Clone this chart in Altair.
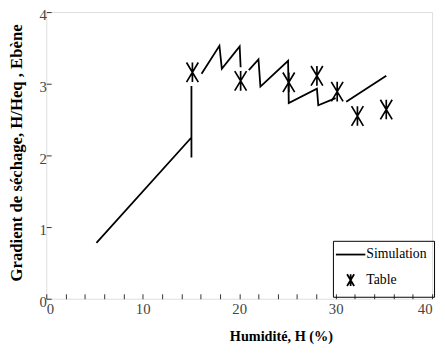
import altair as alt
import pandas as pd

# Simulation curve (segments as drawn)
sim_seg = [0, 0, 0, 0,
           1, 1, 1, 1, 1,
           2, 2, 2, 2, 2, 2, 2, 2,
           3, 3]
sim_h = [5.2, 15.05, 15.05, 15.05,
         16.1, 17.95, 18.2, 20.05, 20.15,
         21.0, 22.0, 22.2, 25.07, 25.14, 28.06, 28.2, 30.0,
         31.1, 35.25]
sim_g = [0.78, 2.25, 1.97, 2.97,
         3.14, 3.53, 3.21, 3.52, 3.23,
         3.19, 3.34, 2.96, 3.32, 2.73, 2.93, 2.70, 2.80,
         2.75, 3.11]

# Table values
tab_h = [15.15, 20.15, 25.14, 28.06, 30.16, 32.26, 35.25]
tab_g = [3.16, 3.04, 3.02, 3.11, 2.89, 2.55, 2.64]

x_ticks = list(range(0, 41, 2))
y_tick_count = 21  # ticks every 0.2 on 0..4

sim = pd.DataFrame({"h": sim_h, "g": sim_g, "seg": sim_seg})
tab = pd.DataFrame({"h": tab_h, "g": tab_g, "series": ["Table"] * len(tab_h)})

LINE_PATH = "M-2.5,0L2.5,0"
X_PATH = "M-0.6,-1L0.6,1M0.6,-1L-0.6,1M0,-1L0,1"

FONT = "Liberation Serif"
xs = alt.Scale(domain=[0, 40], nice=False)
ys = alt.Scale(domain=[0, 4], nice=False)

x_axis = alt.Axis(
    orient="bottom", values=x_ticks, tickCount=50, tickSize={"expr": "-5"}, labelPadding=8,
    format="d", labelOverlap=False,
    labelExpr="datum.value % 10 === 0 ? datum.label : ''",
    domain=False, grid=False, tickColor="#333", labelColor="#444",
    labelFontSize=15, labelFont=FONT, title="Humidité, H (%)",
    titleFont=FONT, titleFontSize=14.5, titleFontWeight="bold",
    titleX=239, titleY=43, titleBaseline="alphabetic", titleColor="black")
y_axis = alt.Axis(
    orient="left", tickCount=y_tick_count, tickSize={"expr": "-5"}, labelPadding=5,
    format="d", labelOverlap=False,
    labelExpr="abs(datum.value - round(datum.value)) < 0.001 ? datum.label : ''",
    labelOffset=3,
    domain=False, grid=False, tickColor="#333", labelColor="#444",
    labelFontSize=15, labelFont=FONT,
    title="Gradient de séchage, H/Heq , Ebène",
    titleFont=FONT, titleFontSize=17, titleFontWeight="bold",
    titleX=-25, titleY=143, titleAngle=270, titleAlign="center",
    titleBaseline="alphabetic", titleColor="black")

line = alt.Chart(sim).mark_line(color="black", strokeWidth=1.8).encode(
    x=alt.X("h:Q", scale=xs, axis=x_axis),
    y=alt.Y("g:Q", scale=ys, axis=y_axis),
    detail="seg:N",
)

pts = alt.Chart(tab).mark_point(filled=False, color="black", strokeWidth=1.7, size=400, opacity=1).encode(
    x=alt.X("h:Q", scale=xs),
    y=alt.Y("g:Q", scale=ys),
    shape=alt.Shape("series:N", scale=alt.Scale(domain=["Simulation", "Table"], range=[LINE_PATH, X_PATH]),
                    legend=alt.Legend(title=None, orient="none", legendX=292, legendY=233,
                                      strokeColor="black", padding=7, symbolSize=144,
                                      symbolStrokeWidth=1.8, symbolStrokeColor="black",
                                      symbolOffset=4, labelOffset=9, rowPadding=9,
                                      labelFont=FONT, labelFontSize=14, labelColor="black")),
)

chart = alt.layer(line, pts).properties(
    width=393, height=292,
    autosize=alt.AutoSizeParams(type="none"),
    padding={"left": 39, "top": 1, "right": 5, "bottom": 45},
).configure_view(stroke="#333", strokeWidth=2).configure(font=FONT, background="white")

chart.save("out.html", embed_options={"renderer": "svg", "actions": False})
